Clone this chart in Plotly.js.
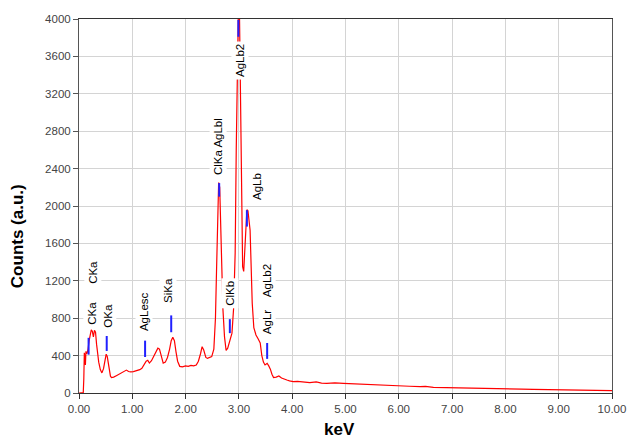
<!DOCTYPE html>
<html>
<head>
<meta charset="utf-8">
<script src="https://cdn.plot.ly/plotly-3.0.1.min.js"></script>
<style>html,body{margin:0;padding:0;background:#fff;}#chart{width:629px;height:440px;}</style>
</head>
<body>
<div id="chart"></div>
<script>
// Spectrum (keV, counts)
const energy = [0.00,0.05,0.08,0.09,0.10,0.11,0.12,0.13,0.15,0.17,0.19,0.21,0.23,0.25,0.27,0.29,0.31,0.33,0.35,0.37,0.40,0.43,0.46,0.49,0.51,0.53,0.55,0.57,0.59,0.61,0.65,0.70,0.75,0.80,0.85,0.89,0.93,0.97,1.02,1.06,1.10,1.14,1.18,1.22,1.26,1.29,1.32,1.36,1.40,1.44,1.48,1.51,1.54,1.58,1.62,1.66,1.70,1.73,1.76,1.79,1.82,1.85,1.89,1.94,2.00,2.05,2.10,2.15,2.20,2.24,2.28,2.31,2.34,2.38,2.41,2.45,2.49,2.53,2.56,2.58,2.60,2.62,2.64,2.66,2.68,2.70,2.73,2.76,2.79,2.83,2.87,2.90,2.93,2.95,2.97,2.99,3.01,3.03,3.05,3.07,3.09,3.12,3.15,3.17,3.19,3.21,3.23,3.25,3.28,3.32,3.36,3.40,3.43,3.46,3.49,3.53,3.56,3.59,3.62,3.65,3.70,3.75,3.80,3.85,3.90,3.95,4.02,4.10,4.20,4.33,4.45,4.55,4.65,4.80,4.96,5.10,5.27,5.40,5.59,5.80,6.02,6.20,6.40,6.50,6.65,6.85,7.05,7.27,7.50,7.70,7.90,8.10,8.30,8.52,8.75,9.00,9.15,9.40,9.60,9.80,9.96,10.00];
const counts = [0,0,5,150,430,380,300,445,420,470,560,640,675,660,600,670,650,520,400,330,250,215,260,350,415,390,300,220,180,165,170,185,200,210,225,245,230,225,228,235,240,250,265,300,340,350,320,345,390,440,480,470,400,320,330,380,470,560,596,560,440,340,285,280,290,285,295,290,300,340,420,495,460,380,370,380,390,470,800,1300,1900,2250,2200,1800,1320,900,600,455,480,560,640,900,1500,2600,3600,4100,4100,3200,1800,1350,1300,1700,1960,1950,1850,1740,1350,960,700,620,580,535,400,330,300,318,290,255,200,165,170,182,160,145,139,130,121,125,115,110,118,106,104,108,103,99,96,88,86,80,75,72,68,70,61,58,52,50,47,49,46,44,41,39,36,33,32,30,28,26,25,25];

// Peak marker segments (keV, from, to)
const markerKeV = [0.18,0.52,1.24,1.73,2.63,2.83,2.99,3.15,3.53];
const markerLow = [410,450,385,650,2100,640,3810,1780,365];
const markerHigh = [590,610,560,830,2245,790,3990,1955,535];

// Peak labels
const labelText = ["CKa","CKa","OKa","AgLesc","SiKa","ClKa AgLbl","ClKb","AgLb2","AgLb","AgLb2","AgLr"];
const labelKeV = [0.24,0.26,0.54,1.22,1.67,2.61,2.83,3.02,3.34,3.53,3.53];
const labelCounts = [856,1294,824,866,1091,2631,1070,3561,2203,1198,759];

const mx = [], my = [];
markerKeV.forEach((k,i)=>{ mx.push(k,k,null); my.push(markerLow[i],markerHigh[i],null); });

const traces = [
  {x: energy, y: counts, type:'scatter', mode:'lines', line:{color:'#ff0000', width:1.2}, hoverinfo:'skip'},
  {x: mx, y: my, type:'scatter', mode:'lines', line:{color:'#2020ff', width:2}, hoverinfo:'skip'}
];

const annotations = labelText.map((t,i)=>({
  x: labelKeV[i], y: labelCounts[i], xref:'x', yref:'y', text:t, showarrow:false,
  textangle:-90, bgcolor:'#ffffff', borderpad:2,
  font:{family:'Liberation Sans, Arial, sans-serif', size:11.5, color:'#000'}
}));
annotations.push({xref:'paper', yref:'paper', x:-0.114, y:0.42, xanchor:'center', yanchor:'middle',
  text:'<b>Counts (a.u.)</b>', textangle:-90, showarrow:false,
  font:{family:'Liberation Sans, Arial, sans-serif', size:17, color:'#000'}});
annotations.push({xref:'paper', yref:'paper', x:0.488, y:-0.097, xanchor:'center', yanchor:'middle',
  text:'<b>keV</b>', showarrow:false,
  font:{family:'Liberation Sans, Arial, sans-serif', size:17, color:'#000'}});

const layout = {
  width:629, height:440,
  margin:{l:79, r:17, t:19, b:47},
  paper_bgcolor:'#ffffff', plot_bgcolor:'#ffffff',
  showlegend:false,
  font:{family:'Liberation Sans, Arial, sans-serif', size:11, color:'#444'},
  xaxis:{range:[0,10], dtick:1, tick0:0, tickformat:'.2f', showgrid:true, gridcolor:'#d4d4d4', gridwidth:1,
    zeroline:false, showline:true, linecolor:'#333', linewidth:1, mirror:true, ticks:'outside', ticklen:5, tickcolor:'#333',
    tickfont:{size:11.5, color:'#444'}},
  yaxis:{range:[0,4000], dtick:400, tick0:0, showgrid:true, gridcolor:'#d4d4d4', gridwidth:1,
    zeroline:false, showline:true, linecolor:'#555', linewidth:1, mirror:true, ticks:'outside', ticklen:5, tickcolor:'#555',
    tickfont:{size:11.5, color:'#444'}},
  annotations: annotations
};

Plotly.newPlot('chart', traces, layout, {staticPlot:true, displayModeBar:false});
</script>
</body>
</html>
